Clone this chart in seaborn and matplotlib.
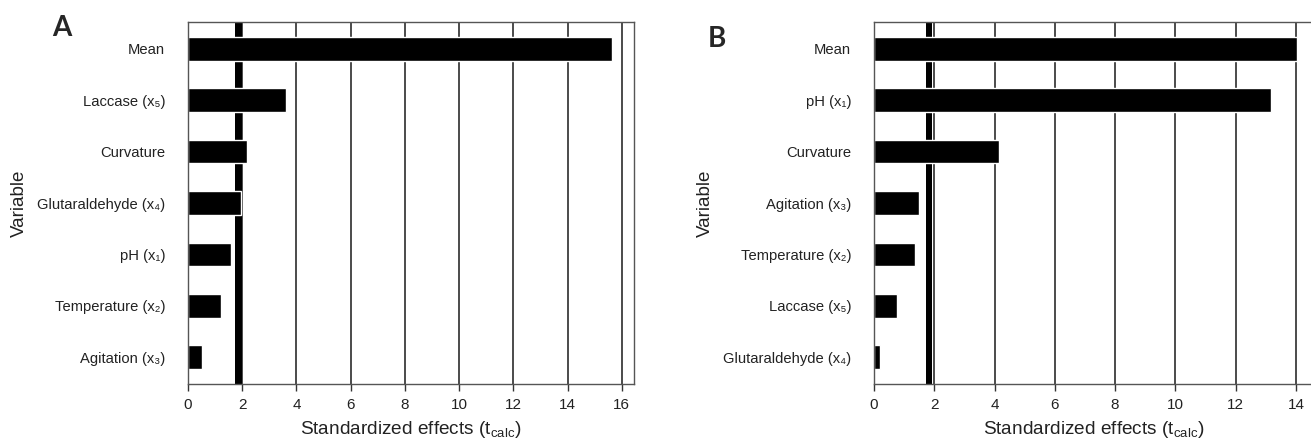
"""Pareto charts of standardized effects for two enzyme immobilization designs."""

import matplotlib
import pandas as pd
import seaborn as sns

matplotlib.use("Agg")
import matplotlib.pyplot as plt

# Panel A
labels_a = ["Mean", "Laccase (x₅)", "Curvature", "Glutaraldehyde (x₄)",
            "pH (x₁)", "Temperature (x₂)", "Agitation (x₃)"]
effects_a = [15.65, 3.61, 2.18, 1.94, 1.57, 1.23, 0.51]
tcrit_a = (1.72, 1.98)
xmax_a = 16.45
ticks_a = [0, 2, 4, 6, 8, 10, 12, 14, 16]

# Panel B
labels_b = ["Mean", "pH (x₁)", "Curvature", "Agitation (x₃)",
            "Temperature (x₂)", "Laccase (x₅)", "Glutaraldehyde (x₄)"]
effects_b = [14.03, 13.16, 4.15, 1.49, 1.35, 0.76, 0.21]
tcrit_b = (1.73, 1.93)
xmax_b = 14.6
ticks_b = [0, 2, 4, 6, 8, 10, 12, 14]

sns.set_style("white")
plt.rcParams["font.family"] = ["Liberation Sans", "DejaVu Sans"]
plt.rcParams["mathtext.fontset"] = "custom"
plt.rcParams["mathtext.rm"] = "Liberation Sans"
plt.rcParams["mathtext.default"] = "regular"

W, H = 1311, 438
fig = plt.figure(figsize=(W / 100, H / 100), dpi=100)


def draw_panel(rect, labels, effects, tcrit, xmax, ticks, letter, letter_xy, ylab_x):
    ax = fig.add_axes(rect)
    df = pd.DataFrame({"variable": labels, "effect": effects})
    for t in ticks[1:]:
        ax.axvline(t, color="#1a1a1a", lw=1.1, zorder=0)
    ax.axvspan(*tcrit, color="black", lw=0, zorder=1)
    sns.barplot(data=df, x="effect", y="variable", order=labels, orient="h",
                color="black", edgecolor="white", linewidth=1.0, width=0.46,
                saturation=1, ax=ax, zorder=2)
    ax.set_xlim(0, xmax)
    ax.set_ylim(6.52, -0.52)
    ax.set_xticks(ticks)
    ax.tick_params(axis="x", bottom=True, length=5, width=1, color="#333333",
                   labelsize=11, pad=5, labelcolor="#222222")
    ax.tick_params(axis="y", left=False, labelsize=10.6, pad=13, labelcolor="#222222")
    for s in ax.spines.values():
        s.set_color("#555555")
        s.set_linewidth(1.0)
    ax.set_xlabel("Standardized effects (t$_{calc}$)", fontsize=13.7,
                  color="#222222", labelpad=5)
    ax.set_ylabel("Variable", fontsize=13.5, color="#222222")
    ax.yaxis.set_label_coords(ylab_x, 0.5)
    fig.text(letter_xy[0] / W, 1 - letter_xy[1] / H, letter, fontsize=20,
             fontweight="bold", family=["Lato", "DejaVu Sans"],
             ha="center", va="center")
    return ax


draw_panel([188 / W, 1 - 384 / H, 446 / W, 362 / H], labels_a, effects_a,
           tcrit_a, xmax_a, ticks_a, "A", (62, 28), -0.359)
draw_panel([874 / W, 1 - 384 / H, 440 / W, 362 / H], labels_b, effects_b,
           tcrit_b, xmax_b, ticks_b, "B", (717, 39), -0.364)

fig.savefig("out.png", dpi=100)
plt.close(fig)
